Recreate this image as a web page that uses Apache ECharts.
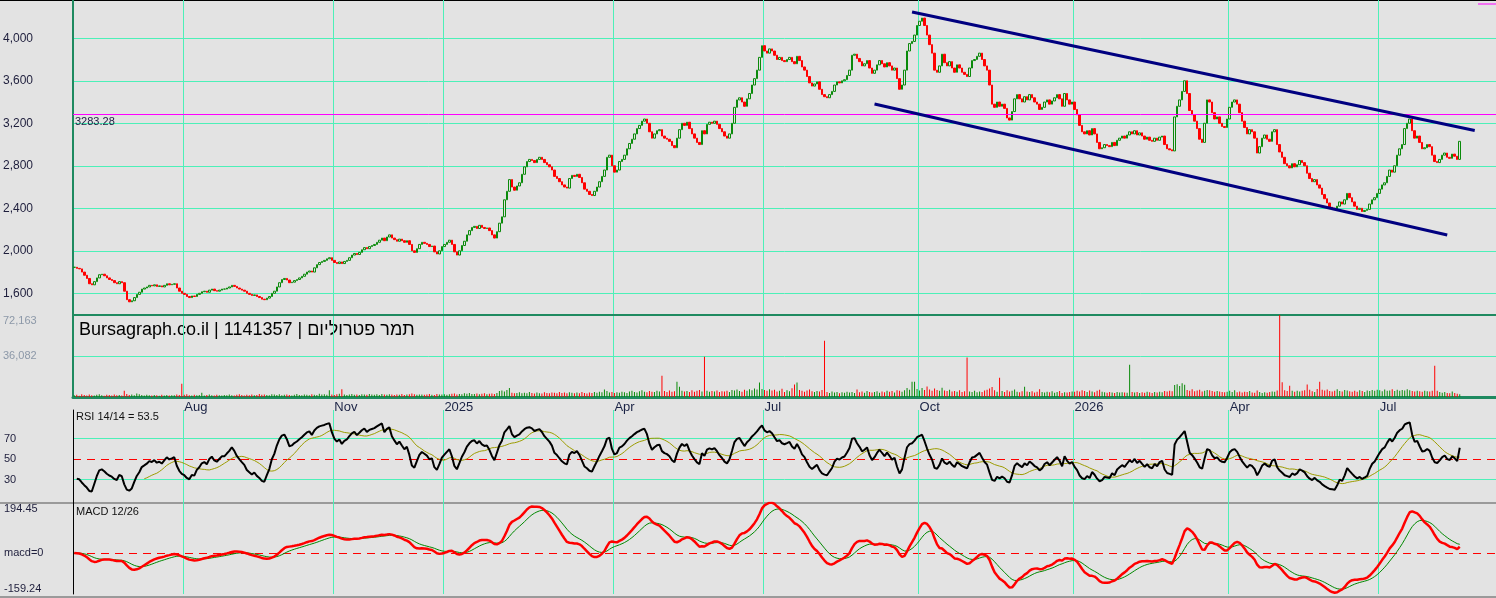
<!DOCTYPE html>
<html>
<head>
<meta charset="utf-8">
<script src="https://cdn.jsdelivr.net/npm/echarts@6/dist/echarts.min.js"></script>
<style>
html,body{margin:0;padding:0;background:#e3e3e3;}
#chart{width:1496px;height:598px;}
</style>
</head>
<body>
<div id="chart"></div>
<script>
// daily closes (one row ~ 20 sessions)
var closes = [
1845,1835,1830,1800,1770,1740,1690,1680,1710,1745,1775,1780,1765,1745,1730,1720,1700,1690,1710,1700,
1620,1540,1520,1530,1560,1590,1610,1640,1650,1660,1675,1670,1680,1665,1670,1660,1675,1690,1680,1685,
1690,1650,1620,1600,1590,1570,1560,1575,1570,1590,1600,1615,1620,1610,1630,1640,1625,1620,1630,1640,
1640,1650,1660,1675,1665,1650,1640,1630,1620,1600,1590,1580,1585,1570,1560,1545,1540,1555,1570,1600,
1620,1660,1700,1730,1740,1725,1700,1705,1720,1730,1745,1760,1780,1800,1810,1800,1840,1870,1890,1900,
1910,1925,1935,1910,1890,1880,1895,1880,1900,1910,1935,1960,1975,1965,1985,2010,2030,2020,2040,2050,
2060,2080,2100,2120,2095,2130,2150,2120,2105,2090,2110,2095,2080,2095,2060,2000,1985,2020,2060,2080,
2070,2060,2040,2045,1990,1970,2000,2040,2060,2080,2100,2060,1990,1960,2000,2050,2090,2150,2190,2220,
2230,2210,2240,2220,2210,2215,2190,2150,2120,2180,2260,2320,2480,2560,2670,2600,2570,2610,2640,2720,
2790,2840,2860,2850,2830,2860,2880,2860,2830,2810,2790,2760,2700,2680,2650,2620,2600,2590,2680,2710,
2700,2720,2690,2640,2580,2560,2530,2520,2560,2600,2650,2700,2760,2880,2900,2800,2740,2760,2840,2860,
2900,2960,3010,3050,3100,3150,3180,3220,3240,3200,3120,3060,3100,3130,3140,3080,3060,3050,3030,2990,
2970,3060,3140,3200,3180,3210,3150,3100,3060,3020,3000,3130,3100,3190,3210,3200,3220,3190,3150,3120,
3080,3060,3100,3200,3350,3420,3440,3400,3360,3430,3480,3560,3620,3700,3820,3930,3880,3860,3900,3880,
3840,3800,3820,3790,3780,3800,3820,3780,3760,3830,3790,3730,3700,3640,3580,3550,3570,3590,3520,3470,
3450,3440,3470,3500,3560,3590,3580,3600,3610,3650,3700,3840,3850,3810,3780,3740,3760,3790,3720,3670,
3700,3750,3790,3760,3730,3770,3740,3700,3720,3620,3520,3560,3700,3880,3950,3970,4030,4120,4160,4190,
4120,4030,3940,3860,3700,3680,3740,3850,3770,3740,3780,3720,3680,3750,3720,3680,3660,3640,3720,3790,
3800,3830,3860,3800,3740,3700,3560,3380,3350,3400,3360,3380,3340,3250,3230,3310,3430,3470,3430,3400,
3450,3420,3470,3440,3400,3380,3330,3350,3400,3420,3380,3410,3440,3470,3430,3360,3480,3420,3380,3400,
3330,3280,3180,3120,3100,3130,3090,3150,3100,3020,2960,2970,3000,2990,2980,3020,2990,3040,3060,3080,
3060,3090,3120,3100,3130,3090,3110,3080,3050,3070,3040,3030,3060,3040,3070,3080,3000,2960,2950,2940,
3260,3360,3420,3500,3600,3480,3320,3280,3220,3150,3050,3020,3200,3420,3400,3300,3240,3260,3200,3170,
3160,3240,3350,3400,3420,3380,3300,3220,3160,3100,3140,3120,3060,2920,2980,3060,3090,3050,3030,3120,
3140,3000,2930,2880,2820,2800,2780,2820,2790,2810,2850,2830,2800,2730,2680,2650,2670,2620,2590,2530,
2490,2450,2410,2400,2390,2420,2460,2440,2480,2540,2500,2460,2420,2390,2400,2370,2380,2390,2440,2480,
2500,2540,2580,2620,2640,2700,2760,2740,2800,2900,2960,3000,3150,3200,3240,3130,3060,3080,3020,2960,
2970,3000,2980,2900,2840,2830,2860,2900,2920,2880,2870,2910,2890,2860,3030
];

// daily volume, thousands of shares
var volumesK = [
1.5,2,1.2,2.5,1.8,1.4,2.2,1.6,1.3,1.9,2.4,1.5,1.2,2,1.7,1.4,2.1,1.6,1.8,1.3,
5.5,2.6,1.8,2.2,1.5,3,2.4,1.7,1.4,2,1.6,1.3,1.8,1.5,1.2,1.9,1.4,1.7,1.3,1.6,
1.5,2.1,1.8,11.7,1.9,2.4,1.6,1.3,2,1.5,1.8,3.8,1.4,1.7,2.2,1.5,1.3,1.9,1.6,1.4,
1.8,1.5,2.2,1.6,1.3,1.9,2.5,1.7,1.4,2,1.6,2.3,1.5,1.8,2.6,1.9,2.2,1.7,1.5,2.4,
2.1,1.8,2.5,1.6,1.9,2.3,1.7,1.4,2,2.6,1.8,1.5,2.2,1.9,1.6,2.4,2,1.7,2.8,2.2,
2.5,1.9,6,2.2,1.8,2.4,2.9,6.9,2.1,1.7,2.3,2.6,1.9,2.2,1.8,2.5,2.1,1.9,2.7,2.3,
2,2.4,1.8,2.6,2.2,1.9,2.5,2.1,1.7,2.3,2,2.6,1.8,2.2,2.4,3.1,2.5,1.9,2.3,2.1,
1.9,2.2,2.6,2,1.8,2.7,2.3,2.1,2.5,1.9,2.4,2.8,3,2.2,2.6,2.4,3.2,2.9,3.5,2.7,
2.6,3,2.4,2.8,3.3,2.5,2.9,3.1,2.7,3.6,5.2,5.8,4.9,6.1,7.9,3.8,3.2,3.6,4.1,3.4,
3.8,3.2,4.4,3.6,3,3.9,3.4,3.1,4.2,3.5,3.3,4,3.7,3.2,4.5,3.6,3.9,3.3,4.1,3.7,
3.4,3.9,3.2,4.4,3.6,3.1,4,3.5,4.3,3.8,4.6,4.1,6.7,5.2,3.9,4.5,3.6,4.2,3.8,4.7,
4.2,3.6,4.8,5.4,4.4,3.9,5.1,6,4.6,4.1,5.3,4.7,4.3,5.5,4.9,18.7,5.2,4.4,5.8,4.6,
5,13.4,9,5.6,4.8,5.2,4.3,5.9,4.7,5.4,6.2,4.9,35.4,5.5,4.6,5.3,4.8,5.7,4.4,5.1,
4.9,5.6,4.5,6.1,5.8,6.6,5.2,4.7,6.3,5.5,6.8,5.9,7.4,6.5,12.7,7.1,6.2,5.6,6.9,5.8,
6.3,4.8,5.5,7.2,4.4,5.9,5,7.6,11,12.7,6.1,5.4,4.7,5.8,6.6,5.1,4.3,5.3,4.9,6.2,
49.6,4.5,3.6,4.8,3.9,4.4,3.4,4.1,3.7,4.6,4,4.3,3.5,6.7,4.2,4.8,3.8,5.3,4.5,3.9,
4.4,5.1,3.7,4.9,4.2,5.6,4.6,5.3,4,6,5.5,4.7,5.9,7.9,6.4,13.4,13.4,7.1,5.8,7.9,
6.1,9.2,6.6,5.4,7.4,6.2,5.5,8.1,5.7,5.2,6.4,4.8,5.3,4.6,5.9,4.4,5.1,34.7,4.9,4.3,
5.5,4.1,4.8,4.5,5.7,6.3,7.5,8.8,5.9,4.7,17,5.2,4.4,6,4.9,5.4,6.6,4.6,4.2,5,
9,4.8,4.3,5.1,4,4.6,6.8,4.4,3.9,4.7,4.2,5,3.8,4.5,5.3,3.6,4.1,3.9,4.4,4.8,
4.6,5.4,4.9,6,5.2,4.4,5.7,4.8,4.1,5.5,6.3,4.7,4.2,3.8,4.5,4,3.6,4.3,3.9,4.2,
4,3.7,28.4,4.5,3.9,4.3,3.6,4.1,3.8,4.7,4.2,3.5,4.4,3.9,4.6,4.1,5.2,4.8,5.6,5.1,
10.5,11.2,9.6,12,10.8,6.2,5.4,6.8,5.1,5.8,6.4,4.9,5.6,6.1,6,5.3,4.6,5.2,4.8,4.4,
4.1,4.7,5.4,4.5,5.9,4.2,4.8,3.9,4.6,4.3,5.2,4,3.7,5.8,4.4,3.6,4.2,3.8,4.5,4.9,
4.6,5.8,72.163,13,5.9,5.2,10,5.6,4.7,5.4,4.9,5.5,6,11,6.3,5.1,4.5,7.1,13.4,6.4,
5.8,6.5,5.2,4.8,5.6,6.9,5.3,4.9,6.2,5.7,5.1,4.6,5.5,4.7,5.9,5.2,4.5,5.8,5.3,6.1,
5.6,6.4,5.9,5,6.7,5.4,5.8,6.9,5.2,6.3,5.5,6.1,5.7,6.8,6,5.3,4.9,5.6,5.1,4.7,
5.5,5,4.8,5.4,27.6,5.6,4.3,3.8,4.5,3.6,3.2,4.8,3.5,2.8,2.5
];

var monthLabels = ['Aug', 'Nov', '2025', 'Apr', 'Jul', 'Oct', '2026', 'Apr', 'Jul'];
var monthIdx = [44, 104, 148, 216, 276, 338, 400, 462, 522];
var priceTicks = [1600, 2000, 2400, 2800, 3200, 3600, 4000];
var volTicks = [36082, 72163];
var rsiTicks = [30, 50, 70];
var rsiBands = [30, 70];
var rsiMid = [50];
var macdTicks = [-159.24, 0, 194.45];
var macdZero = [0];
var levelPrice = 3283.28;
// channel lines: [session index, price]
var upperTrend = [[335, 4247], [560, 3132]];
var lowerTrend = [[320, 3382], [549, 2149]];
var totalSlots = 569;

var gridColor = '#4cf0b8';
var frameGreen = '#1f8a60';
var font = '"Liberation Sans", Arial, sans-serif';

var cats = [];
for (var i = 0; i < totalSlots; i++) cats.push(String(i));

var candles = [], vols = [];
for (var i = 0; i < closes.length; i++) {
	var o = i === 0 ? closes[0] : closes[i - 1];
	var c = closes[i];
	candles.push([o, c, Math.min(o, c), Math.max(o, c)]);
	vols.push({value: volumesK[i] * 1000, itemStyle: {color: c >= o ? '#0a8a0a' : '#ff0000'}});
}

// RSI 14 (Wilder, seeded with the first 14 moves) and its 14 period average
function calcRsi(vals, n) {
	var ag = 0, al = 0;
	for (var i = 1; i <= n; i++) {
		var d0 = vals[i] - vals[i - 1];
		ag += Math.max(d0, 0) / n;
		al += Math.max(-d0, 0) / n;
	}
	var out = [null];
	for (var i = 1; i < vals.length; i++) {
		var d = vals[i] - vals[i - 1];
		ag = (ag * (n - 1) + Math.max(d, 0)) / n;
		al = (al * (n - 1) + Math.max(-d, 0)) / n;
		out.push(al === 0 ? 100 : 100 - 100 / (1 + ag / al));
	}
	return out;
}
function sma(vals, n, from) {
	var out = [];
	for (var i = 0; i < vals.length; i++) {
		if (i < from) { out.push(null); continue; }
		var s = 0;
		for (var j = i - n + 1; j <= i; j++) s += vals[j];
		out.push(s / n);
	}
	return out;
}
function ema(vals, n) {
	var out = [], a = 2 / (n + 1), e = vals[0];
	for (var i = 0; i < vals.length; i++) {
		e = i === 0 ? vals[0] : a * vals[i] + (1 - a) * e;
		out.push(e);
	}
	return out;
}
var rsi = calcRsi(closes, 14);
var rsiMa = sma(rsi, 14, 28);
var e12 = ema(closes, 12), e26 = ema(closes, 26);
var macd = e12.map(function (v, i) { return v - e26[i]; });
var signal = ema(macd, 9);

function isMonth(index) { return monthIdx.indexOf(index) >= 0; }

function catAxis(grid, showLabels, lineOpt) {
	return {
		type: 'category', gridIndex: grid, data: cats, boundaryGap: true,
		axisLine: lineOpt,
		axisTick: {show: false},
		axisLabel: showLabels ? {
			show: true, interval: function (idx) { return isMonth(idx); },
			formatter: function (v, idx) { var k = monthIdx.indexOf(idx); return k >= 0 ? monthLabels[k] : ''; },
			align: 'left', verticalAlign: 'top', margin: 4,
			color: '#1a2244', fontSize: 13, fontFamily: font
		} : {show: false},
		splitLine: {show: true, interval: function (idx) { return isMonth(idx); },
			lineStyle: {color: gridColor, width: 1}}
	};
}

// hidden value axis that only draws a dashed red guide line
function guideAxis(grid, min, max, values) {
	return {
		type: 'value', gridIndex: grid, min: min, max: max, position: 'right',
		axisLine: {show: false}, axisLabel: {show: false},
		axisTick: {show: false, customValues: values},
		splitLine: {show: true, lineStyle: {color: '#ff0000', width: 1, type: [8, 6]}}
	};
}

var chart = echarts.init(document.getElementById('chart'));
var option = {
	animation: false,
	backgroundColor: '#e3e3e3',
	grid: [
		{left: 73, right: 0, top: 0, height: 315},
		{left: 73, right: 0, top: 315, height: 82},
		{left: 73, right: 0, top: 410, height: 93},
		{left: 73, right: 0, top: 503, height: 91}
	],
	xAxis: [
		catAxis(0, false, {show: true, lineStyle: {color: frameGreen, width: 2}}),
		catAxis(1, true, {show: true, lineStyle: {color: frameGreen, width: 3}}),
		catAxis(2, false, {show: false}),
		catAxis(3, false, {show: false})
	],
	yAxis: [
		{
			type: 'value', gridIndex: 0, min: 1396, max: 4360,
			axisLine: {show: true, lineStyle: {color: frameGreen, width: 2}},
			axisTick: {show: false, customValues: priceTicks},
			axisLabel: {customValues: priceTicks, align: 'left', margin: 70, color: '#1e1e3c',
				fontSize: 12, fontFamily: font,
				formatter: function (v) { return v.toLocaleString('en-US'); }},
			splitLine: {show: true, lineStyle: {color: gridColor, width: 1}}
		},
		{
			type: 'value', gridIndex: 1, min: 0, max: 72163,
			axisLine: {show: true, lineStyle: {color: frameGreen, width: 2}},
			axisTick: {show: false, customValues: volTicks},
			axisLabel: {customValues: volTicks, align: 'left', margin: 70, color: '#8c98a8',
				fontSize: 11, fontFamily: font, verticalAlignMaxLabel: 'top',
				formatter: function (v) { return v.toLocaleString('en-US'); }},
			splitLine: {show: true, lineStyle: {color: gridColor, width: 1}}
		},
		{
			type: 'value', gridIndex: 2, min: 7, max: 98,
			axisLine: {show: true, lineStyle: {color: '#000', width: 1}},
			axisTick: {show: false, customValues: rsiBands},
			axisLabel: {customValues: rsiTicks, align: 'left', margin: 69, color: '#1e1e3c',
				fontSize: 11, fontFamily: font},
			splitLine: {show: true, lineStyle: {color: gridColor, width: 1}}
		},
		{
			type: 'value', gridIndex: 3, min: -159.24, max: 194.45,
			axisLine: {show: true, lineStyle: {color: '#000', width: 1}},
			axisTick: {show: false},
			axisLabel: {customValues: macdTicks, align: 'left', margin: 69, color: '#1e1e3c',
				fontSize: 11, fontFamily: font,
				verticalAlignMaxLabel: 'top', verticalAlignMinLabel: 'bottom',
				formatter: function (v) { return v === 0 ? 'macd=0' : v.toFixed(2); }},
			splitLine: {show: false}
		},
		guideAxis(2, 7, 98, rsiMid),
		guideAxis(3, -159.24, 194.45, macdZero)
	],
	series: [
		{
			type: 'candlestick', xAxisIndex: 0, yAxisIndex: 0, data: candles, barWidth: 2,
			itemStyle: {color: '#e3e3e3', borderColor: '#0a8a0a', color0: '#ff0000', borderColor0: '#ff0000', borderWidth: 1},
			markLine: {
				silent: true, symbol: ['none', 'none'], animation: false,
				data: [
					{yAxis: levelPrice, lineStyle: {color: '#ff00ff', width: 1, type: 'solid'},
						label: {show: true, position: 'insideStartBottom', formatter: '3283.28', color: '#222244',
							fontSize: 11, fontFamily: font, distance: [2, 2]}},
					[{coord: upperTrend[0], lineStyle: {color: '#000080', width: 3, type: 'solid'}, label: {show: false}},
						{coord: upperTrend[1]}],
					[{coord: lowerTrend[0], lineStyle: {color: '#000080', width: 3, type: 'solid'}, label: {show: false}},
						{coord: lowerTrend[1]}]
				]
			}
		},
		{
			type: 'bar', xAxisIndex: 1, yAxisIndex: 1, data: vols, barWidth: 1
		},
		{
			type: 'line', xAxisIndex: 2, yAxisIndex: 2, data: rsiMa, symbol: 'none',
			lineStyle: {color: '#9c9c00', width: 1}
		},
		{
			type: 'line', xAxisIndex: 2, yAxisIndex: 2, data: rsi, symbol: 'none',
			lineStyle: {color: '#000', width: 2}
		},
		{
			type: 'line', xAxisIndex: 3, yAxisIndex: 3, data: signal, symbol: 'none',
			lineStyle: {color: '#008800', width: 1}
		},
		{
			type: 'line', xAxisIndex: 3, yAxisIndex: 3, data: macd, symbol: 'none',
			lineStyle: {color: '#ff0000', width: 2.5}
		}
	],
	graphic: [
		{type: 'line', shape: {x1: 0, y1: 0.5, x2: 1496, y2: 0.5}, style: {stroke: '#000', lineWidth: 1}},
		{type: 'line', shape: {x1: 1478, y1: 4, x2: 1496, y2: 4}, style: {stroke: '#ff00ff', lineWidth: 1}},
		{type: 'rect', shape: {x: 0, y: 502, width: 1496, height: 2}, style: {fill: '#9a9a9a'}},
		{type: 'rect', shape: {x: 0, y: 596, width: 1496, height: 2}, style: {fill: '#9a9a9a'}},
		{type: 'text', left: 79, top: 321, style: {text: 'Bursagraph.co.il | 1141357 | תמר פטרוליום',
			font: '18px ' + font, fill: '#000'}},
		{type: 'text', left: 76, top: 411, style: {text: 'RSI 14/14 = 53.5', font: '11px ' + font, fill: '#111'}},
		{type: 'text', left: 76, top: 506, style: {text: 'MACD 12/26', font: '11px ' + font, fill: '#111'}}
	]
};
chart.setOption(option);
</script>
</body>
</html>
